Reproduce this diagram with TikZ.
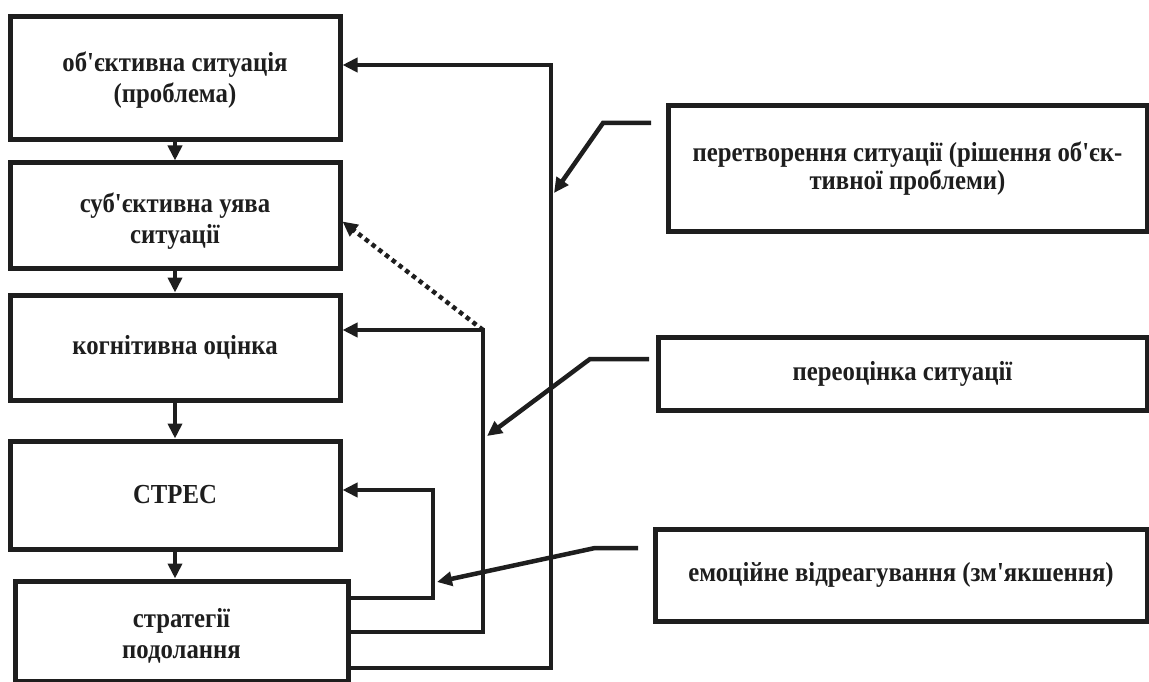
\documentclass[tikz,border=0pt]{standalone}
\usepackage{fontspec}
\setmainfont{Liberation Serif}[Ligatures=TeXOff,FakeStretch=0.9]
\usetikzlibrary{arrows.meta}
\definecolor{ink}{HTML}{1E1E1E}
\begin{document}
\begin{tikzpicture}[x=1pt,y=-1pt,
  txt/.style={inner sep=0pt,align=center,text=ink,
    font=\fontsize{27.5}{31}\selectfont\bfseries},
  box/.style={draw=ink,line width=5pt,txt},
  arr/.style={draw=ink,line width=4.5pt,-{Triangle[length=15pt,width=14pt]}},
  dots/.style={dash pattern=on 4.5pt off 4pt,line width=4.5pt}]
\useasboundingbox (0,0) rectangle (1149,682);
% left column
\node[box,minimum width=330pt,minimum height=123pt,
  label={[txt,yshift=-2pt]center:об'єктивна ситуація\\(проблема)}] (b1) at (175,78.5) {};
\node[box,minimum width=330pt,minimum height=105pt,
  label={[txt,yshift=-6pt]center:суб'єктивна уява\\ситуації}] (b2) at (175,215.5) {};
\node[box,minimum width=330pt,minimum height=105pt] (b3) at (175,347.5) {когнітивна оцінка};
\node[box,minimum width=330pt,minimum height=108pt] (b4) at (175,495) {СТРЕС};
\node[box,minimum width=333pt,minimum height=100pt,
  label={[txt,yshift=-5pt]center:стратегії\\подолання}] (b5) at (181.5,631) {};
% right column
\node[box,minimum width=479pt,minimum height=125pt,
  font=\fontsize{27.5}{28.5}\selectfont\bfseries] (r1) at (907.5,168.5) {перетворення ситуації (рішення об'єк-\\тивної проблеми)};
\node[box,minimum width=489pt,minimum height=73pt] (r2) at (902.5,373.5) {переоцінка ситуації};
\node[box,minimum width=492pt,minimum height=92pt] (r3) at (901,575) {емоційне відреагування (зм'якшення)};
% down arrows
\draw[arr] (b1.south) -- (b2.north);
\draw[arr] (b2.south) -- (b3.north);
\draw[arr] (b3.south) -- (b4.north);
\draw[arr] (b4.south) -- (b4.south |- b5.north);
% feedback loops
\coordinate (oT) at (551,65);
\coordinate (oB) at (551,668);
\coordinate (mT) at (483,330);
\coordinate (mB) at (483,632);
\coordinate (iT) at (433,490);
\coordinate (iB) at (433,598);
\draw[arr] (b5.east |- oB) -- (oB) -- (oT) -- (b1.east |- oT);
\draw[arr] (b5.east |- mB) -- (mB) -- (mT) -- (b3.east |- mT);
\draw[arr] (b5.east |- iB) -- (iB) -- (iT) -- (b4.east |- iT);
\draw[arr,dots] (mT) -- ([yshift=-6pt]b2.east);
% side inputs
\coordinate (p1) at (651,123);
\coordinate (k1) at (603,123);
\coordinate (t1) at (554,193);
\coordinate (p2) at (649,359);
\coordinate (k2) at (590,359);
\coordinate (t2) at (487,436);
\coordinate (p3) at (638,548);
\coordinate (k3) at (595,548);
\coordinate (t3) at (437,582);
\draw[arr] (p1) -- (k1) -- (t1);
\draw[arr] (p2) -- (k2) -- (t2);
\draw[arr] (p3) -- (k3) -- (t3);
\end{tikzpicture}
\end{document}
